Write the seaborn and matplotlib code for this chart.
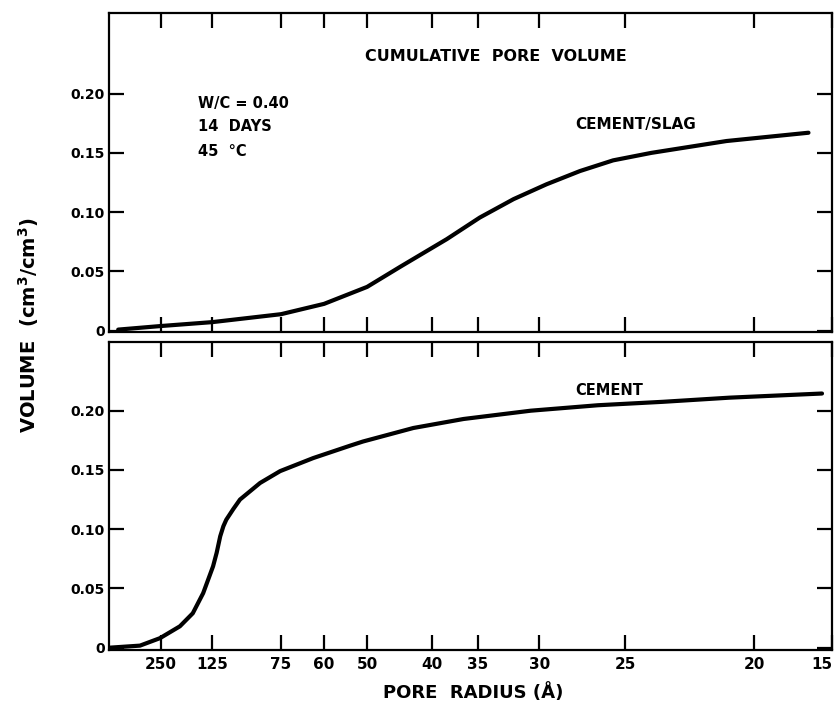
import numpy as np
import pandas as pd
import matplotlib
matplotlib.use("Agg")
import matplotlib.pyplot as plt
import seaborn as sns

# ---- data ----
slag_radius = [1400, 250, 125, 75, 60, 50, 44.3, 38.2, 34.8, 31.9, 29.5, 27.4, 25.6, 23.8, 20.9, 18.45]
slag_volume = [0.001, 0.004, 0.0073, 0.014, 0.0227, 0.037, 0.054, 0.0773, 0.0955, 0.111, 0.1235, 0.1347, 0.1437, 0.150, 0.160, 0.167]

cement_radius = [10000, 416, 253, 182, 154, 137, 124, 119.8, 116, 112.8, 110, 103.8, 98.5, 85.4, 75.4, 63.2, 53.5, 50.8, 42.4, 36.4, 30.6, 26.4, 23.3, 20.8, 18.1]
cement_volume = [0.0, 0.0017, 0.008, 0.018, 0.029, 0.046, 0.0686, 0.0802, 0.094, 0.1025, 0.108, 0.117, 0.125, 0.139, 0.149, 0.160, 0.1705, 0.174, 0.1854, 0.193, 0.200, 0.2046, 0.2075, 0.211, 0.2145]

x_tick_radii = [250, 125, 75, 60, 50, 40, 35, 30, 25, 20]
x_tick_labels = ["250", "125", "75", "60", "50", "40", "35", "30", "25", "20"]
edge_label = "15"
edge_radius = 17.85          # radius at the right edge of the axis

y_ticks = [0, 0.05, 0.10, 0.15, 0.20]
y_tick_labels = ["0", "0.05", "0.10", "0.15", "0.20"]

slag = pd.DataFrame({"inv_r": 1.0 / np.array(slag_radius), "volume": slag_volume})
cement = pd.DataFrame({"inv_r": 1.0 / np.array(cement_radius), "volume": cement_volume})

# ---- style ----
sns.set_theme(style="ticks")
plt.rcParams["font.family"] = ["DejaVu Sans"]
plt.rcParams["font.weight"] = "bold"
plt.rcParams["axes.labelweight"] = "bold"
for key in ("text.color", "axes.labelcolor", "xtick.color", "ytick.color", "axes.edgecolor"):
    plt.rcParams[key] = "black"

fig = plt.figure(figsize=(8.35, 7.15), dpi=100)
ax_top = fig.add_axes([0.1305, 0.5357, 0.8659, 0.4462])
ax_bot = fig.add_axes([0.1305, 0.0909, 0.8659, 0.4308])

sns.lineplot(data=slag, x="inv_r", y="volume", ax=ax_top, color="black",
             linewidth=3.0, estimator=None, sort=False)
sns.lineplot(data=cement, x="inv_r", y="volume", ax=ax_bot, color="black",
             linewidth=3.0, estimator=None, sort=False)

xpos = [1.0 / r for r in x_tick_radii] + [1.0 / edge_radius]
xlab = x_tick_labels + [edge_label]

for ax, ylim in ((ax_top, (-0.001, 0.268)), (ax_bot, (-0.002, 0.258))):
    ax.set_xlim(0, 1.0 / edge_radius)
    ax.set_ylim(*ylim)
    ax.set_xticks(xpos)
    ax.set_xticklabels(xlab)
    ax.set_yticks(y_ticks)
    ax.set_yticklabels(y_tick_labels)
    ax.set_xlabel("")
    ax.set_ylabel("")
    for s in ax.spines.values():
        s.set_visible(True)
        s.set_linewidth(1.6)
        s.set_color("black")
    ax.tick_params(axis="both", direction="in", length=11, width=1.6,
                   top=True, right=True, color="black", labelcolor="black")
    ax.tick_params(axis="y", labelsize=10, pad=3)
    ax.tick_params(axis="x", labelsize=11, pad=5)
    for t in ax.get_xticklabels() + ax.get_yticklabels():
        t.set_fontweight("bold")

ax_top.tick_params(axis="x", labelbottom=False)
# keep the edge label inside the picture
ax_bot.get_xticklabels()[-1].set_horizontalalignment("right")

# ---- annotations ----
ax_top.text(0.535, 0.862, "CUMULATIVE  PORE  VOLUME", transform=ax_top.transAxes,
            ha="center", va="center", fontsize=11.5, fontweight="bold")
ax_top.text(0.123, 0.715, "W/C = 0.40", transform=ax_top.transAxes,
            ha="left", va="center", fontsize=10.5, fontweight="bold")
ax_top.text(0.123, 0.643, "14  DAYS", transform=ax_top.transAxes,
            ha="left", va="center", fontsize=10.5, fontweight="bold")
ax_top.text(0.123, 0.567, "45  \u00b0C", transform=ax_top.transAxes,
            ha="left", va="center", fontsize=10.5, fontweight="bold")
ax_top.text(0.645, 0.649, "CEMENT/SLAG", transform=ax_top.transAxes,
            ha="left", va="center", fontsize=11, fontweight="bold")
ax_bot.text(0.645, 0.844, "CEMENT", transform=ax_bot.transAxes,
            ha="left", va="center", fontsize=10.5, fontweight="bold")

fig.text(0.034, 0.545, "VOLUME  (cm$^\\mathbf{3}$/cm$^\\mathbf{3}$)", rotation=90,
         ha="center", va="center", fontsize=14, fontweight="bold")
fig.text(0.567, 0.032, "PORE  RADIUS (\u00c5)", ha="center", va="center",
         fontsize=13, fontweight="bold")

fig.savefig("out.png", dpi=100, facecolor="white")
